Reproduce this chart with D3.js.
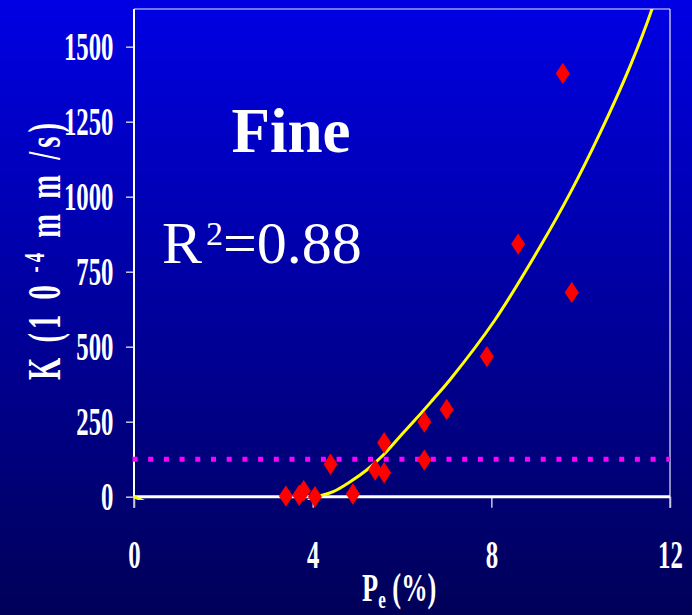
<!DOCTYPE html>
<html>
<head>
<meta charset="utf-8">
<script src="https://cdn.jsdelivr.net/npm/d3@7"></script>
<style>
  body { margin: 0; padding: 0; }
  svg { display: block; }
</style>
</head>
<body>
<div id="chart"></div>
<script>
// measured points, Pe (%) vs K
const peValues = [3.4, 3.7, 3.8, 4.05, 4.4, 4.9, 5.4, 5.6, 5.6, 6.5, 6.5, 7.0, 7.9, 8.6, 9.6, 9.8];
const kValues  = [2, 5, 20, 0, 108, 9, 89, 80, 180, 249, 122, 291, 467, 842, 1411, 681];

// fitted trend line
const fitPe = [3.85, 4.0, 4.46, 4.84, 5.21, 5.58, 5.95, 6.33, 6.70, 7.07, 8.08, 9.09, 9.76, 10.43, 11.1, 11.61, 11.75];
const fitK  = [-20, -5, 17, 50, 89, 139, 200, 262, 325, 389, 589, 833, 1011, 1211, 1433, 1631, 1700];
const stubPe = [0, 0.3];
const stubK  = [0, -20];

const thresholdK = 125;
const xTicks = [0, 4, 8, 12];
const yTicks = [0, 250, 500, 750, 1000, 1250, 1500];

const width = 692, height = 615;
const serif = "'Liberation Serif', 'Times New Roman', serif";
const squeeze = 0.62;

const svg = d3.select('#chart')
    .append('svg')
    .attr('width', width)
    .attr('height', height);

const defs = svg.append('defs');
const grad = defs.append('linearGradient')
    .attr('id', 'bg')
    .attr('x1', 0).attr('y1', 0).attr('x2', 0).attr('y2', 1);
grad.append('stop').attr('offset', '0%').attr('stop-color', '#0000e4');
grad.append('stop').attr('offset', '100%').attr('stop-color', '#000058');

svg.append('rect')
    .attr('width', width)
    .attr('height', height)
    .attr('fill', 'url(#bg)');

var xScale = d3.scaleLinear().domain([0, 12]).range([134, 670]);
var yScale = d3.scaleLinear().domain([0, 1500]).range([496.7, 46.7]);
const topY = 9;

defs.append('clipPath').attr('id', 'plotClip')
    .append('rect')
    .attr('x', xScale(0) - 1)
    .attr('y', topY)
    .attr('width', xScale(12) - xScale(0) + 2)
    .attr('height', 500 - topY);

// frame: top and right thin lines
svg.append('line')
    .attr('x1', xScale(0)).attr('x2', xScale(12))
    .attr('y1', topY).attr('y2', topY)
    .attr('stroke', '#e8e8ff').attr('stroke-width', 1.2);
svg.append('line')
    .attr('x1', xScale(12)).attr('x2', xScale(12))
    .attr('y1', topY).attr('y2', 508)
    .attr('stroke', '#e8e8ff').attr('stroke-width', 1.2);

// y axis
const yAxis = d3.axisLeft(yScale)
    .tickValues(yTicks)
    .tickFormat(d3.format('d'))
    .tickSize(8)
    .tickPadding(0);
const gy = svg.append('g')
    .attr('transform', `translate(${xScale(0)},0)`)
    .call(yAxis);
gy.select('.domain').remove();
gy.selectAll('.tick line').attr('stroke', '#c8c8e0').attr('stroke-width', 1.5);
gy.selectAll('.tick text')
    .attr('fill', 'white')
    .attr('font-family', serif)
    .attr('font-weight', 'bold')
    .attr('font-size', 40)
    .attr('x', -20.5 / squeeze)
    .attr('dy', '0.33em')
    .attr('transform', `scale(${squeeze},1)`);
svg.append('line')
    .attr('x1', xScale(0)).attr('x2', xScale(0))
    .attr('y1', topY).attr('y2', yScale(0))
    .attr('stroke', 'white').attr('stroke-width', 2);
svg.append('line')
    .attr('x1', xScale(0)).attr('x2', xScale(0))
    .attr('y1', yScale(0)).attr('y2', 508)
    .attr('stroke', '#c8c8e0').attr('stroke-width', 1.5);

// x axis
const xAxis = d3.axisBottom(xScale)
    .tickValues(xTicks)
    .tickFormat(d3.format('d'))
    .tickSize(11)
    .tickPadding(0);
const gx = svg.append('g')
    .attr('transform', `translate(0,${yScale(0)})`)
    .call(xAxis);
gx.select('.domain').remove();
gx.selectAll('.tick line').attr('stroke', '#c8c8e0').attr('stroke-width', 1.5);
gx.selectAll('.tick text')
    .attr('fill', 'white')
    .attr('font-family', serif)
    .attr('font-weight', 'bold')
    .attr('font-size', 40)
    .attr('x', 0)
    .attr('y', 71)
    .attr('dy', 0)
    .attr('transform', `scale(${squeeze},1)`);

svg.append('line')
    .attr('x1', xScale(0)).attr('x2', xScale(12))
    .attr('y1', yScale(0)).attr('y2', yScale(0))
    .attr('stroke', 'white').attr('stroke-width', 3);

// threshold dotted line
svg.append('line')
    .attr('x1', xScale(0) - 1.5).attr('x2', xScale(12))
    .attr('y1', yScale(thresholdK)).attr('y2', yScale(thresholdK))
    .attr('stroke', '#ff00ff')
    .attr('stroke-width', 5)
    .attr('stroke-dasharray', '5,10.7');

// fit line
var line = d3.line()
    .x(d => xScale(d[0]))
    .y(d => yScale(d[1]))
    .curve(d3.curveCatmullRom);

const plot = svg.append('g').attr('clip-path', 'url(#plotClip)');
plot.append('path')
    .attr('d', line(fitPe.map((p, i) => [p, fitK[i]])))
    .attr('fill', 'none')
    .attr('stroke', '#ffff00')
    .attr('stroke-width', 3)
    .attr('stroke-linejoin', 'round');
plot.append('path')
    .attr('d', line(stubPe.map((p, i) => [p, stubK[i]])))
    .attr('fill', 'none')
    .attr('stroke', '#ffff00')
    .attr('stroke-width', 3);

// diamonds
const hw = 7, hh = 10.7;
svg.selectAll('.pt')
    .data(peValues.map((p, i) => ({pe: p, k: kValues[i]})))
    .enter()
    .append('path')
    .attr('class', 'pt')
    .attr('d', d => {
        const cx = xScale(d.pe), cy = yScale(d.k);
        return `M${cx},${cy - hh}L${cx + hw},${cy}L${cx},${cy + hh}L${cx - hw},${cy}Z`;
    })
    .attr('fill', '#ff0000');

// annotations
svg.append('text')
    .attr('x', 291).attr('y', 152)
    .attr('text-anchor', 'middle')
    .attr('font-family', serif)
    .attr('font-weight', 'bold')
    .attr('font-size', 63)
    .attr('fill', 'white')
    .text('Fine');

const r2 = svg.append('text')
    .attr('x', 162).attr('y', 263)
    .attr('font-family', serif)
    .attr('font-size', 60)
    .attr('fill', 'white');
r2.append('tspan').text('R');
r2.append('tspan').attr('font-size', 34).attr('dx', 4).attr('dy', -18).text('2');
r2.append('tspan').attr('dx', 0).attr('dy', 18).text('=0.88');

// x axis title
const xt = svg.append('text')
    .attr('transform', `translate(362,601) scale(0.66,1)`)
    .attr('font-family', serif)
    .attr('font-weight', 'bold')
    .attr('font-size', 40)
    .attr('fill', 'white');
xt.append('tspan').text('P');
xt.append('tspan').attr('font-size', 26).attr('dy', 7).text('e');
xt.append('tspan').attr('dy', -7).text(' (%)');

// y axis title
const yt = svg.append('text')
    .attr('transform', `translate(60,380) rotate(-90) scale(0.62,1)`)
    .attr('font-family', serif)
    .attr('font-weight', 'bold')
    .attr('font-size', 46)
    .attr('fill', 'white')
    .attr('textLength', 257 / 0.62)
    .attr('lengthAdjust', 'spacing');
yt.append('tspan').text('K (1 0');
yt.append('tspan').attr('font-size', 30).attr('dy', -16).text(' -4');
yt.append('tspan').attr('dy', 16).text('  m m /s)');
</script>
</body>
</html>
